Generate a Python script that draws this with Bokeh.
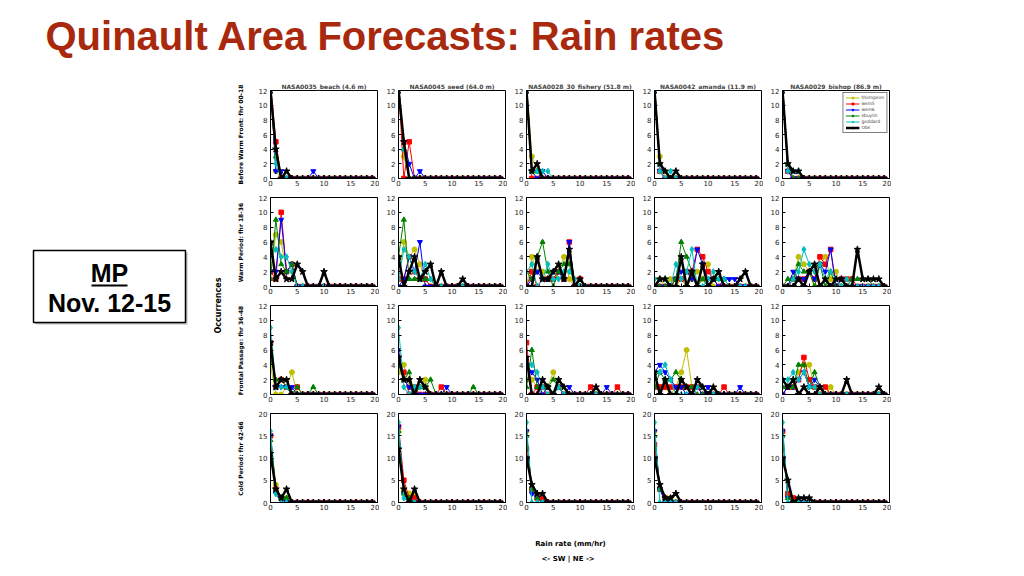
from bokeh.plotting import figure
from bokeh.layouts import column, row, gridplot
from bokeh.models import Range1d, Legend, LegendItem, FixedTicker
from bokeh.embed import file_html
from bokeh.resources import INLINE
from bokeh.core.properties import value
import math

rate = list(range(20))
stations = ["NASA0035_beach (4.6 m)", "NASA0045_seed (64.0 m)",
            "NASA0028_30_fishery (51.8 m)", "NASA0042_amanda (11.9 m)",
            "NASA0029_bishop (86.9 m)"]
periods = ["Before Warm Front: fhr 00-18", "Warm Period: fhr 18-36",
           "Frontal Passage: fhr 36-48", "Cold Period: fhr 42-66"]
y_max = [12, 12, 12, 20]
y_ticks = [[0, 2, 4, 6, 8, 10, 12]] * 3 + [[0, 5, 10, 15, 20]]
x_ticks = [0, 5, 10, 15, 20]
series_names = ["thompson", "wsm5", "wsm6", "sbuylin", "goddard", "Obs"]

# values[row][col] -> 20 counts per rain-rate bin
thompson = [
    [[13,1,0,0,0,0,0,0,0,0,0,0,0,0,0,0,0,0,0,0],
     [13,3,0,0,0,0,0,0,0,0,0,0,0,0,0,0,0,0,0,0],
     [13,3,1,0,0,0,0,0,0,0,0,0,0,0,0,0,0,0,0,0],
     [13,3,0,0,0,0,0,0,0,0,0,0,0,0,0,0,0,0,0,0],
     [13,1,0,0,0,0,0,0,0,0,0,0,0,0,0,0,0,0,0,0]],
    [[2,7,6,2,3,0,0,0,0,0,0,0,0,0,0,0,0,0,0,0],
     [1,6,4,5,3,1,0,0,0,0,0,0,0,0,0,0,0,0,0,0],
     [0,4,2,2,1,1,2,4,1,0,0,0,0,0,0,0,0,0,0,0],
     [0,1,0,1,0,1,0,1,2,1,3,0,0,0,0,0,0,0,0,0],
     [0,0,1,4,3,2,0,3,4,1,2,0,0,0,0,0,0,0,0,0]],
    [[4,0,0,1,3,0,0,0,0,0,0,0,0,0,0,0,0,0,0,0],
     [3,4,1,0,1,2,0,0,0,0,0,0,0,0,0,0,0,0,0,0],
     [2,2,1,0,1,3,1,0,0,0,0,0,0,0,0,0,0,0,0,0],
     [2,1,1,0,1,3,6,1,1,0,0,0,0,0,0,0,0,0,0,0],
     [0,1,1,3,4,4,1,0,0,1,0,0,0,0,0,0,0,0,0,0]],
    [[15,4,1,1,0,0,0,0,0,0,0,0,0,0,0,0,0,0,0,0],
     [16,3,2,2,0,0,0,0,0,0,0,0,0,0,0,0,0,0,0,0],
     [16,3,1,1,0,0,0,0,0,0,0,0,0,0,0,0,0,0,0,0],
     [16,3,1,1,0,0,0,0,0,0,0,0,0,0,0,0,0,0,0,0],
     [16,2,1,0,0,0,0,0,0,0,0,0,0,0,0,0,0,0,0,0]],
]
wsm5 = [
    [[13,5,0,0,0,0,0,0,0,0,0,0,0,0,0,0,0,0,0,0],
     [13,0,5,0,0,0,0,0,0,0,0,0,0,0,0,0,0,0,0,0],
     [13,0,0,0,0,0,0,0,0,0,0,0,0,0,0,0,0,0,0,0],
     [13,1,0,0,0,0,0,0,0,0,0,0,0,0,0,0,0,0,0,0],
     [13,1,0,0,0,0,0,0,0,0,0,0,0,0,0,0,0,0,0,0]],
    [[2,1,10,2,3,0,0,0,0,0,0,0,0,0,0,0,0,0,0,0],
     [1,1,4,2,1,1,0,0,0,0,0,0,0,0,0,0,0,0,0,0],
     [0,2,0,1,1,1,2,1,6,0,1,0,0,0,0,0,0,0,0,0],
     [0,0,0,0,1,1,2,2,5,4,2,1,0,0,0,0,0,0,0,0],
     [0,0,1,1,1,2,1,4,3,5,0,1,1,1,0,0,0,0,0,0]],
    [[7,1,2,1,0,1,0,0,0,0,0,0,0,0,0,0,0,0,0,0],
     [5,3,0,1,0,0,0,0,1,0,0,0,0,0,0,0,0,0,0,0],
     [7,0,1,1,0,0,1,0,0,0,0,0,1,0,0,0,0,1,0,0],
     [1,1,1,1,1,1,1,1,1,0,0,0,0,1,0,0,0,0,0,0],
     [0,1,1,2,5,2,1,0,1,0,0,0,0,0,0,0,0,0,0,0]],
    [[15,3,1,0,0,0,0,0,0,0,0,0,0,0,0,0,0,0,0,0],
     [17,5,1,1,0,0,0,0,0,0,0,0,0,0,0,0,0,0,0,0],
     [12,3,1,1,0,0,0,0,0,0,0,0,0,0,0,0,0,0,0,0],
     [13,3,1,0,0,0,0,0,0,0,0,0,0,0,0,0,0,0,0,0],
     [16,2,1,0,0,0,0,0,0,0,0,0,0,0,0,0,0,0,0,0]],
]
wsm6 = [
    [[13,1,1,0,0,0,0,0,1,0,0,0,0,0,0,0,0,0,0,0],
     [13,5,2,0,1,0,0,0,0,0,0,0,0,0,0,0,0,0,0,0],
     [13,1,0,1,0,0,0,0,0,0,0,0,0,0,0,0,0,0,0,0],
     [13,1,0,0,0,0,0,0,0,0,0,0,0,0,0,0,0,0,0,0],
     [13,1,0,0,0,0,0,0,0,0,0,0,0,0,0,0,0,0,0,0]],
    [[2,2,9,2,3,0,0,0,0,0,0,0,0,0,0,0,0,0,0,0],
     [0,1,4,2,6,0,0,0,0,0,0,0,0,0,0,0,0,0,0,0],
     [0,1,2,1,1,2,2,1,6,0,0,0,0,0,0,0,0,0,0,0],
     [0,0,0,0,1,2,2,1,5,3,1,1,0,1,1,1,0,0,0,0],
     [0,0,2,1,1,2,1,3,2,5,0,1,0,0,0,0,0,0,0,0]],
    [[7,1,1,1,1,0,0,0,0,0,0,0,0,0,0,0,0,0,0,0],
     [6,2,1,0,0,0,0,0,0,1,0,0,0,0,0,0,0,0,0,0],
     [4,3,2,0,1,0,1,0,1,0,0,0,0,0,0,1,0,0,0,0],
     [3,4,3,2,1,1,0,0,1,0,1,0,0,0,0,0,1,0,0,0],
     [0,1,1,2,3,1,2,1,0,0,0,0,0,0,0,0,0,0,0,0]],
    [[15,2,1,0,0,0,0,0,0,0,0,0,0,0,0,0,0,0,0,0],
     [17,2,0,0,0,0,0,0,0,0,0,0,0,0,0,0,0,0,0,0],
     [16,2,1,0,0,0,0,0,0,0,0,0,0,0,0,0,0,0,0,0],
     [16,3,0,0,0,0,0,0,0,0,0,0,0,0,0,0,0,0,0,0],
     [16,1,0,0,0,0,0,0,0,0,0,0,0,0,0,0,0,0,0,0]],
]
sbuylin = [
    [[13,3,0,0,0,0,0,0,0,0,0,0,0,0,0,0,0,0,0,0],
     [13,4,0,0,0,0,0,0,0,0,0,0,0,0,0,0,0,0,0,0],
     [13,1,1,0,0,0,0,0,0,0,0,0,0,0,0,0,0,0,0,0],
     [13,2,1,0,0,0,0,0,0,0,0,0,0,0,0,0,0,0,0,0],
     [13,2,0,0,0,0,0,0,0,0,0,0,0,0,0,0,0,0,0,0]],
    [[1,9,3,2,3,0,0,0,0,0,0,0,0,0,0,0,0,0,0,0],
     [4,9,1,1,1,1,1,0,0,0,0,0,0,0,0,0,0,0,0,0],
     [2,1,4,6,2,0,2,3,3,0,0,0,0,0,0,0,0,0,0,0],
     [0,0,0,0,1,6,4,2,0,1,0,1,1,1,0,0,0,0,0,0],
     [0,1,1,3,2,2,0,3,0,2,0,0,0,1,1,1,1,0,0,0]],
    [[5,2,2,1,0,1,0,0,1,0,0,0,0,0,0,0,0,0,0,0],
     [4,2,3,0,1,1,2,0,0,0,0,0,0,0,1,0,0,0,0,0],
     [1,6,1,1,1,2,1,0,0,0,0,0,0,0,0,0,0,0,0,0],
     [1,3,2,2,3,2,1,1,0,0,0,0,0,0,0,0,0,0,0,0],
     [1,1,1,4,4,1,3,1,0,0,0,0,0,0,0,0,0,0,0,0]],
    [[14,3,1,1,0,0,0,0,0,0,0,0,0,0,0,0,0,0,0,0],
     [16,2,1,0,0,0,0,0,0,0,0,0,0,0,0,0,0,0,0,0],
     [15,3,1,0,0,0,0,0,0,0,0,0,0,0,0,0,0,0,0,0],
     [15,3,1,1,0,0,0,0,0,0,0,0,0,0,0,0,0,0,0,0],
     [15,1,0,0,0,0,0,0,0,0,0,0,0,0,0,0,0,0,0,0]],
]
goddard = [
    [[13,2,0,0,0,0,0,0,0,0,0,0,0,0,0,0,0,0,0,0],
     [13,4,0,0,0,0,0,0,0,0,0,0,0,0,0,0,0,0,0,0],
     [13,1,1,1,1,0,0,0,0,0,0,0,0,0,0,0,0,0,0,0],
     [13,1,0,1,0,0,0,0,0,0,0,0,0,0,0,0,0,0,0,0],
     [13,1,1,1,0,0,0,0,0,0,0,0,0,0,0,0,0,0,0,0]],
    [[4,5,4,4,2,0,0,0,0,0,0,0,0,0,0,0,0,0,0,0],
     [1,5,4,2,1,3,1,0,0,0,0,0,0,0,0,0,0,0,0,0],
     [2,3,0,1,3,1,1,2,2,1,0,0,0,0,0,0,0,0,0,0],
     [1,1,1,0,3,1,2,5,0,0,1,2,1,1,0,0,0,0,0,0],
     [0,0,1,2,5,3,2,3,1,2,1,0,1,0,0,0,0,0,0,0]],
    [[9,1,1,1,0,0,0,0,0,0,0,0,0,0,0,0,0,0,0,0],
     [9,1,0,1,1,1,0,0,0,0,0,0,0,0,0,0,0,0,0,0],
     [4,4,3,1,0,0,1,0,0,0,0,0,0,0,0,0,0,0,0,0],
     [3,3,4,2,0,0,0,0,1,1,0,0,0,0,0,0,0,0,0,0],
     [2,2,3,2,3,1,1,0,0,0,0,0,0,0,0,0,0,0,0,0]],
    [[16,2,0,0,0,0,0,0,0,0,0,0,0,0,0,0,0,0,0,0],
     [18,1,0,0,0,0,0,0,0,0,0,0,0,0,0,0,0,0,0,0],
     [18,0,0,0,0,0,0,0,0,0,0,0,0,0,0,0,0,0,0,0],
     [18,0,0,0,0,0,0,0,0,0,0,0,0,0,0,0,0,0,0,0],
     [18,0,0,0,0,0,0,0,0,0,0,0,0,0,0,0,0,0,0,0]],
]
obs = [
    [[12,4,0,1,0,0,0,0,0,0,0,0,0,0,0,0,0,0,0,0],
     [12,5,0,0,0,0,0,0,0,0,0,0,0,0,0,0,0,0,0,0],
     [12,1,2,0,0,0,0,0,0,0,0,0,0,0,0,0,0,0,0,0],
     [12,2,1,0,1,0,0,0,0,0,0,0,0,0,0,0,0,0,0,0],
     [12,2,1,1,0,0,0,0,0,0,0,0,0,0,0,0,0,0,0,0]],
    [[6,1,2,1,1,3,2,0,0,0,2,0,0,0,0,0,0,0,0,0],
     [4,0,2,4,1,2,3,0,2,0,0,0,1,0,0,0,0,0,0,0],
     [0,0,4,1,1,2,3,1,5,0,1,0,0,0,0,0,0,0,0,0],
     [0,1,1,0,0,4,0,2,0,3,0,1,2,0,0,0,1,2,0,0],
     [0,0,0,1,0,2,3,0,1,0,1,1,0,0,5,1,1,1,1,0]],
    [[7,1,2,2,0,0,0,0,0,0,0,0,0,0,0,0,0,0,0,0],
     [5,2,2,0,2,1,0,0,0,0,0,0,0,0,0,0,0,0,0,0],
     [5,0,0,2,1,0,2,1,0,0,0,0,0,1,0,0,0,0,0,0],
     [3,0,2,0,0,2,1,0,2,1,0,1,0,0,0,0,0,0,0,0],
     [2,1,2,0,1,0,0,1,0,0,0,0,2,0,0,0,0,0,1,0]],
    [[11,3,1,3,0,0,0,0,0,0,0,0,0,0,0,0,0,0,0,0],
     [12,3,0,3,0,0,0,0,0,0,0,0,0,0,0,0,0,0,0,0],
     [10,4,2,2,0,0,0,0,0,0,0,0,0,0,0,0,0,0,0,0],
     [10,4,1,1,2,0,0,0,0,0,0,0,0,0,0,0,0,0,0,0],
     [10,5,0,1,1,1,0,0,0,0,0,0,0,0,0,0,0,0,0,0]],
]

all_series = [thompson, wsm5, wsm6, sbuylin, goddard, obs]
colors = ["#bfbf00", "#ff0000", "#0000ff", "#008000", "#00bfbf", "#000000"]
markers = ["circle", "square", "inverted_triangle", "triangle", "diamond", "star"]
marker_sizes = [5, 4.5, 5, 5, 6, 7]
line_widths = [1.0, 1.0, 1.0, 1.0, 1.0, 2.5]

PANEL_FONT = "DejaVu Sans"
SANS = "Liberation Sans"

# ---- panels
grid_children = []
for r in range(4):
    row_figs = []
    for c in range(5):
        p = figure(width=128, height=108, x_range=Range1d(0, 20),
                   y_range=Range1d(0, y_max[r]), output_backend="svg",
                   toolbar_location=None, min_border_left=19, min_border_right=2,
                   min_border_top=9, min_border_bottom=9,
                   title=stations[c] if r == 0 else None)
        if r == 0:
            p.title.text_font = PANEL_FONT
            p.title.text_font_size = "6px"
            p.title.text_font_style = "bold"
            p.title.align = "center"
            p.title.standoff = 1
            p.title.offset = 0
        p.grid.visible = False
        p.outline_line_color = "black"
        p.outline_line_width = 1
        p.background_fill_color = "white"
        p.border_fill_color = "white"
        p.xaxis.ticker = FixedTicker(ticks=x_ticks)
        p.yaxis.ticker = FixedTicker(ticks=y_ticks[r])
        for ax in (p.xaxis[0], p.yaxis[0]):
            ax.major_label_text_font = PANEL_FONT
            ax.major_label_text_font_size = "7px"
            ax.major_label_text_color = "#222222"
            ax.major_tick_in = 3
            ax.major_tick_out = 0
            ax.minor_tick_in = 0
            ax.minor_tick_out = 0
            ax.axis_line_color = "black"
            ax.major_tick_line_color = "black"
        p.xaxis.major_label_standoff = 1
        p.yaxis.major_label_standoff = 3
        items = []
        for s in range(6):
            vals = all_series[s][r][c]
            ln = p.line(rate, vals, line_color=colors[s], line_width=line_widths[s])
            mk = p.scatter(rate, vals, marker=markers[s], size=marker_sizes[s],
                           fill_color=colors[s], line_color=colors[s])
            items.append(LegendItem(label=series_names[s], renderers=[ln, mk]))
        if r == 0 and c == 4:
            leg = Legend(items=items, location="top_right",
                         label_text_font=PANEL_FONT, label_text_font_size="4.5px",
                         glyph_height=5, glyph_width=14, label_height=5,
                         label_standoff=2, spacing=1, padding=2, margin=2,
                         border_line_color="black", border_line_width=0.8,
                         background_fill_alpha=1)
            p.add_layout(leg)
        row_figs.append(p)
    grid_children.append(row_figs)

grid = gridplot(grid_children, toolbar_location=None)

def blank(w, h):
    f = figure(width=w, height=h, x_range=Range1d(0, w), y_range=Range1d(h, 0),
               output_backend="svg", toolbar_location=None, min_border=0)
    f.axis.visible = False
    f.grid.visible = False
    f.outline_line_color = None
    return f

# ---- title (page y 0..80)
title_fig = blank(891, 80)
title_fig.text(x=[45], y=[35], text=["Quinault Area Forecasts: Rain rates"],
               text_font=value(SANS), text_font_size="40px", text_font_style="bold",
               text_color="#a8290e", text_align="left", text_baseline="middle")

# ---- left side: MP box, Occurrences, period labels (local y = page y - 80)
left_fig = blank(251, 432)
left_fig.quad(left=[35], right=[187], top=[172], bottom=[244], fill_color="#bbbbbb",
              line_color=None)
left_fig.quad(left=[33], right=[185], top=[170], bottom=[242], fill_color="white",
              line_color="black", line_width=1.5)
left_fig.text(x=[109, 109], y=[192, 222], text=["MP", "Nov. 12-15"],
              text_font=value(SANS), text_font_size="25px", text_font_style="bold",
              text_color="black", text_align="center", text_baseline="middle")
left_fig.segment(x0=[91], y0=[205], x1=[127], y1=[205], line_color="black", line_width=1.8)
left_fig.text(x=[218], y=[225], text=["Occurrences"], angle=math.pi / 2,
              text_font=value(PANEL_FONT), text_font_size="8px", text_font_style="bold",
              text_color="black", text_align="center", text_baseline="middle")
left_fig.text(x=[240] * 4, y=[54, 162, 270, 378], text=periods, angle=math.pi / 2,
              text_font=value(PANEL_FONT), text_font_size="6px", text_font_style="bold",
              text_color="black", text_align="center", text_baseline="middle")

# ---- bottom labels (page y 512..568)
bottom_fig = blank(891, 56)
bottom_fig.text(x=[570, 570], y=[31, 46], text=["Rain rate (mm/hr)", "<-  SW | NE  ->"],
                text_font=value(PANEL_FONT), text_font_size="7px", text_font_style="bold",
                text_color="black", text_align="center", text_baseline="middle")

page = column(title_fig, row(left_fig, grid), bottom_fig)

open("out.html", "w").write(file_html(page, INLINE))
